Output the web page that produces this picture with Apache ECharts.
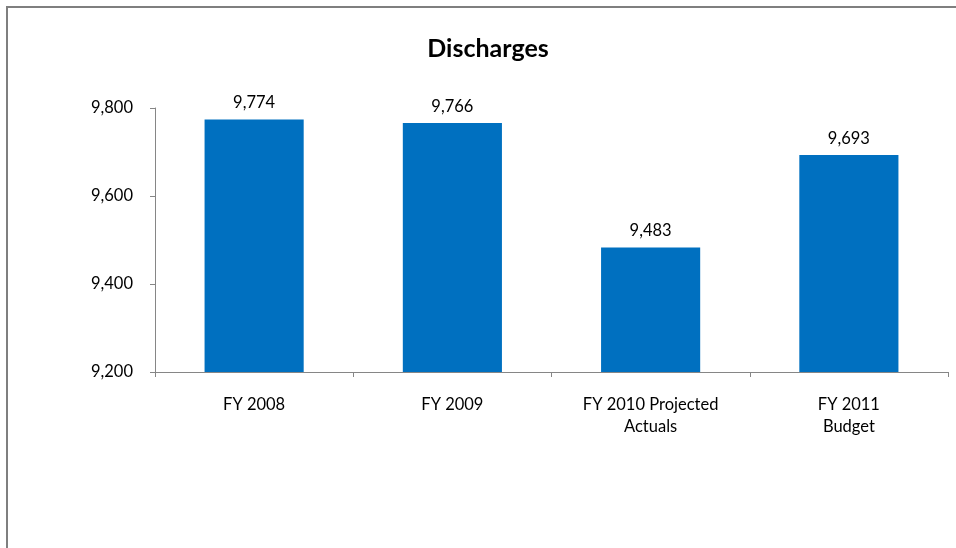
<!DOCTYPE html>
<html>
<head>
<meta charset="utf-8">
<script src="https://cdn.jsdelivr.net/npm/echarts@6/dist/echarts.min.js"></script>
<style>
  html, body { margin: 0; padding: 0; background: #fff; overflow: hidden; }
  #frame {
    position: absolute; left: 6px; top: 6px; width: 1000px; height: 600px;
    border-top: 2px solid #7f7f7f; border-left: 2px solid #7f7f7f;
  }
  #chart { position: absolute; left: 0; top: 0; width: 956px; height: 548px; }
</style>
</head>
<body>
<div id="frame"></div>
<div id="chart"></div>
<script>
const categories = ['FY 2008', 'FY 2009', 'FY 2010 Projected\nActuals', 'FY 2011\nBudget']
const discharges = [9774, 9766, 9483, 9693]
const yMin = 9200
const yMax = 9800
const yStep = 200

const fmt = v => v.toLocaleString('en-US')
const font = 'Lato, "Open Sans", sans-serif'

const chart = echarts.init(document.getElementById('chart'))
const option = {
  animation: false,
  title: {
    text: 'Discharges',
    left: 483,
    top: 31,
    textAlign: 'center',
    textStyle: { fontFamily: font, fontSize: 25, fontWeight: 'bold', color: '#000' }
  },
  grid: {
    left: 155,
    right: 8,
    top: 108,
    bottom: 176,
    containLabel: false
  },
  xAxis: {
    type: 'category',
    data: categories,
    axisLine: { lineStyle: { color: '#868686', width: 1 } },
    axisTick: { show: true, length: 5, lineStyle: { color: '#868686' } },
    axisLabel: {
      margin: 22,
      color: '#000',
      fontFamily: font,
      fontSize: 16.5,
      lineHeight: 22,
      interval: 0
    }
  },
  yAxis: {
    type: 'value',
    min: yMin,
    max: yMax,
    interval: yStep,
    axisLine: { show: true, lineStyle: { color: '#868686', width: 1 } },
    axisTick: { show: true, length: 5, lineStyle: { color: '#868686' } },
    splitLine: { show: false },
    axisLabel: {
      margin: 22,
      color: '#000',
      fontFamily: font,
      fontSize: 16.5,
      formatter: v => fmt(v)
    }
  },
  series: [
    {
      type: 'bar',
      data: discharges,
      barWidth: '50%',
      itemStyle: { color: '#0070C0' },
      label: {
        show: true,
        position: 'top',
        distance: 8,
        color: '#000',
        fontFamily: font,
        fontSize: 16.5,
        formatter: p => fmt(p.value)
      }
    }
  ]
}
chart.setOption(option)
</script>
</body>
</html>
